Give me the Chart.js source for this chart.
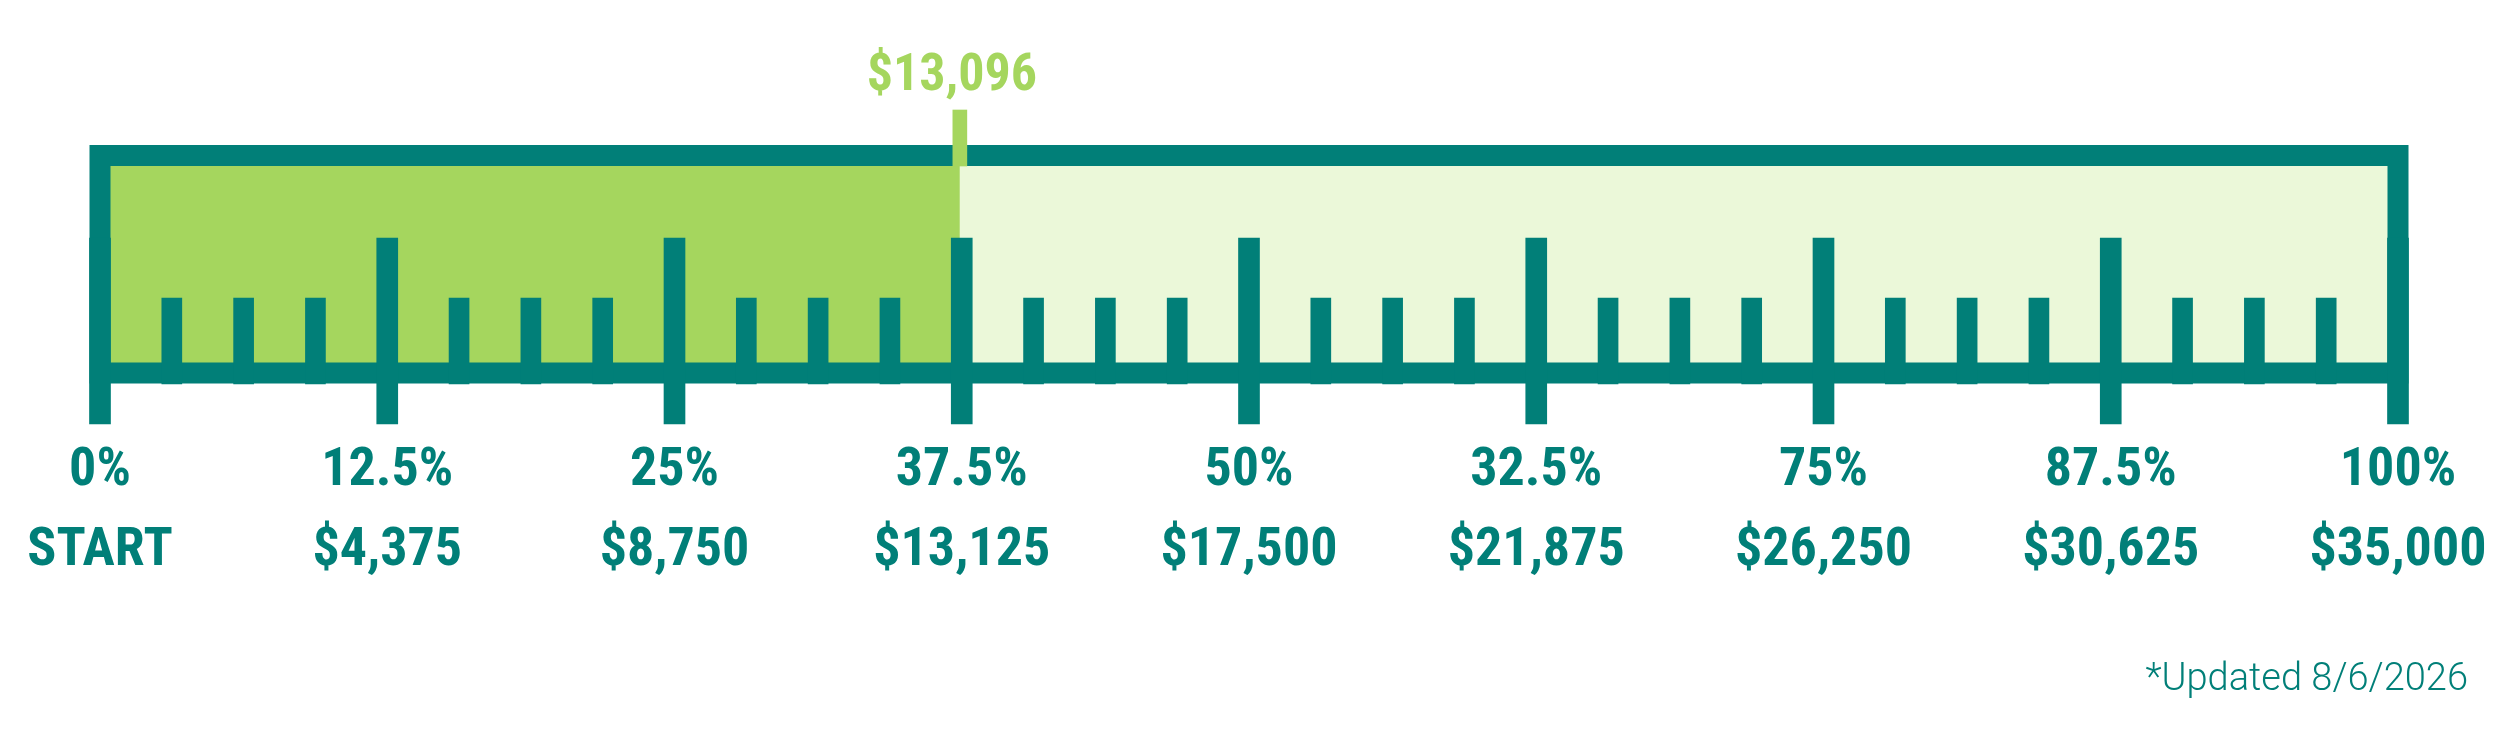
<!DOCTYPE html>
<html>
<head>
<meta charset="utf-8">
<script src="https://cdn.jsdelivr.net/npm/chart.js@4.4.1/dist/chart.umd.min.js"></script>
<style>
  html, body { margin: 0; padding: 0; background: #ffffff; }
  #wrap { width: 2500px; height: 729px; position: relative; }
</style>
</head>
<body>
<div id="wrap"><canvas id="c"></canvas></div>
<script>
// ---------------- data ----------------
const goalAmount = 35000;
const raisedAmount = 13096;
const raisedLabel = '$13,096';
const majorTickValues = [0, 4375, 8750, 13125, 17500, 21875, 26250, 30625, 35000];
const percentLabels = ['0%', '12.5%', '25%', '37.5%', '50%', '32.5%', '75%', '87.5%', '100%'];
const amountLabels = ['START', '$4,375', '$8,750', '$13,125', '$17,500', '$21,875', '$26,250', '$30,625', '$35,000'];
const minorTickValues = [
  1093.75, 2187.5, 3281.25,
  5468.75, 6562.5, 7656.25,
  9843.75, 10937.5, 12031.25,
  14218.75, 15312.5, 16406.25,
  18593.75, 19687.5, 20781.25,
  22968.75, 24062.5, 25156.25,
  27343.75, 28437.5, 29531.25,
  31718.75, 32812.5, 33906.25
];
const footnoteText = '*Updated 8/6/2026';

// ---------------- style / layout ----------------
const TEAL = '#017F78';
const GREEN = '#A5D65E';
const LIGHT = '#EBF8D9';
const LABEL_FAMILY = "'Roboto Condensed', 'Open Sans Condensed', 'Liberation Sans', sans-serif";

// vertical layout of the ruler, in units of the hidden y scale
const V = {
  max: 314,
  frameTop: 268.5, frameBottom: 51, frameWidth: 21,
  majorBottom: 0, majorTop: 186,
  minorBottom: 40, minorTop: 126,
  markerBottom: 258, markerTop: 314
};

const frameX = [goalAmount / 2, 0, 0, goalAmount, goalAmount, goalAmount / 2];
const frameY = [V.frameBottom, V.frameBottom, V.frameTop, V.frameTop, V.frameBottom, V.frameBottom];

const markerLabelPlugin = {
  id: 'markerLabel',
  afterDatasetsDraw(chart) {
    const idx = chart.data.datasets.findIndex(d => d.id === 'marker');
    const bar = chart.getDatasetMeta(idx).data[0];
    if (!bar) return;
    const ctx = chart.ctx;
    ctx.save();
    ctx.font = 'bold 52px ' + LABEL_FAMILY;
    ctx.fillStyle = GREEN;
    ctx.textAlign = 'center';
    ctx.textBaseline = 'alphabetic';
    ctx.fillText(raisedLabel, bar.x - 8, bar.y - 20);
    ctx.restore();
  }
};

new Chart(document.getElementById('c'), {
  type: 'bar',
  data: {
    datasets: [
      {
        id: 'goalFill', type: 'line', order: 50,
        data: [{ x: 0, y: V.frameTop }, { x: goalAmount, y: V.frameTop }],
        fill: { value: V.frameBottom }, backgroundColor: LIGHT,
        borderWidth: 0, pointRadius: 0, clip: false
      },
      {
        id: 'raisedFill', type: 'line', order: 40,
        data: [{ x: 0, y: V.frameTop }, { x: raisedAmount, y: V.frameTop }],
        fill: { value: V.frameBottom }, backgroundColor: GREEN,
        borderWidth: 0, pointRadius: 0, clip: false
      },
      {
        id: 'frame', type: 'line', order: 30,
        data: frameX.map((x, i) => ({ x: x, y: frameY[i] })),
        fill: false, borderColor: TEAL, borderWidth: V.frameWidth,
        borderJoinStyle: 'miter', borderCapStyle: 'butt',
        pointRadius: 0, tension: 0, clip: false
      },
      {
        id: 'major', type: 'bar', order: 20,
        data: majorTickValues.map(v => ({ x: v, y: [V.majorBottom, V.majorTop] })),
        backgroundColor: TEAL, borderWidth: 0, barThickness: 21, clip: false
      },
      {
        id: 'minor', type: 'bar', order: 20,
        data: minorTickValues.map(v => ({ x: v, y: [V.minorBottom, V.minorTop] })),
        backgroundColor: TEAL, borderWidth: 0, barThickness: 20, clip: false
      },
      {
        id: 'marker', type: 'bar', order: 10,
        data: [{ x: raisedAmount, y: [V.markerBottom, V.markerTop] }],
        backgroundColor: GREEN, borderWidth: 0, barThickness: 14, clip: false
      }
    ]
  },
  options: {
    responsive: true,
    maintainAspectRatio: false,
    animation: false,
    events: [],
    layout: { padding: { top: 110, left: 0, right: 32, bottom: 0 } },
    plugins: {
      legend: { display: false },
      tooltip: { enabled: false },
      title: {
        display: true,
        position: 'bottom',
        align: 'end',
        text: footnoteText,
        color: TEAL,
        font: { family: 'Roboto, sans-serif', size: 38, weight: '300', lineHeight: '40px' },
        padding: { top: 62, bottom: 29 }
      }
    },
    scales: {
      x: {
        type: 'linear',
        min: 0,
        max: goalAmount,
        offset: false,
        stacked: true,
        grid: { display: false, drawTicks: false },
        border: { display: false },
        afterBuildTicks(scale) {
          scale.ticks = majorTickValues.map(v => ({ value: v }));
        },
        ticks: {
          autoSkip: false,
          maxRotation: 0,
          minRotation: 0,
          padding: 7,
          color: TEAL,
          font: { family: LABEL_FAMILY, size: 54, weight: 'bold', lineHeight: '80px' },
          callback(value) {
            const i = majorTickValues.indexOf(value);
            return [percentLabels[i], amountLabels[i]];
          }
        }
      },
      y: {
        type: 'linear',
        position: 'left',
        min: 0,
        max: V.max,
        stacked: false,
        display: true,
        grid: { display: false, drawTicks: false },
        border: { display: false },
        ticks: { display: false },
        afterFit(scale) { scale.width = 100; }
      },
      yRight: {
        type: 'linear',
        position: 'right',
        min: 0,
        max: 1,
        display: true,
        grid: { display: false, drawTicks: false },
        border: { display: false },
        ticks: { display: false },
        afterFit(scale) { scale.width = 70; }
      }
    }
  },
  plugins: [markerLabelPlugin]
});
</script>
</body>
</html>
